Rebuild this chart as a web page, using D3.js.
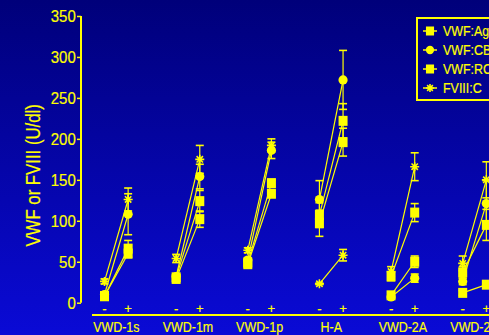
<!DOCTYPE html>
<html>
<head>
<meta charset="utf-8">
<script src="https://cdn.jsdelivr.net/npm/d3@7"></script>
<style>
  html, body { margin: 0; padding: 0; overflow: hidden; }
  svg { display: block; }
  text { font-family: 'Liberation Sans', Arial, sans-serif; fill: #ffff00; stroke: #ffff00; stroke-width: 0.2px; }
</style>
</head>
<body>
<script>
const groups = ['VWD-1s', 'VWD-1m', 'VWD-1p', 'H-A', 'VWD-2A', 'VWD-2B']
const states = ['-', '+']
const yTicks = [0, 50, 100, 150, 200, 250, 300, 350]
const seriesNames = ['VWF:Ag', 'VWF:CB', 'VWF:RCo', 'FVIII:C']
const seriesShapes = ['square', 'circle', 'square', 'star']

// values before (-) and after (+) DDAVP, with error bars
const agPre = [8, 31, 49, 107, 32, 37]
const agPost = [66, 124, 146, 222, 110, 95]
const agPreSd = [3, 3, 3, 15, 5, 7]
const agPostSd = [10, 13, 4, 21, 11, 19]

const cbPre = [10, 32, 52, 126, 7, 26]
const cbPost = [108, 154, 186, 272, 30, 121]
const cbPreSd = [3, 3, 3, 23, 2, 4]
const cbPostSd = [25, 15, 10, 36, 5, 28]

const rcoPre = [8, 29, 47, 97, 9, 12]
const rcoPost = [60, 102, 133, 196, 50, 22]
const rcoPreSd = [3, 3, 3, 16, 2, 3]
const rcoPostSd = [5, 10, 4, 17, 7, 3]

const f8Pre = [26, 54, 64, 23, 38, 48]
const f8Post = [126, 175, 192, 58, 166, 150]
const f8PreSd = [3, 5, 3, 1, 6, 9]
const f8PostSd = [14, 17, 8, 7, 17, 22]

const width = 489
const height = 335
const yellow = '#ffff00'

const series = [
  { pre: agPre, post: agPost, preSd: agPreSd, postSd: agPostSd },
  { pre: cbPre, post: cbPost, preSd: cbPreSd, postSd: cbPostSd },
  { pre: rcoPre, post: rcoPost, preSd: rcoPreSd, postSd: rcoPostSd },
  { pre: f8Pre, post: f8Post, preSd: f8PreSd, postSd: f8PostSd }
].map((s, k) => ({ ...s, name: seriesNames[k], shape: seriesShapes[k] }))

const x = d3.scaleLinear().domain([0, groups.length - 1]).range([104.5, 462.7])
const stateOffset = [0, 0.33]
const xPos = (g, st) => x(g + stateOffset[st])
const y = d3.scaleLinear().domain([0, 350]).range([302.7, 16])

const svg = d3.select('body').append('svg')
  .attr('width', width)
  .attr('height', height)

const grad = svg.append('defs').append('linearGradient')
  .attr('id', 'bg').attr('x1', 0).attr('y1', 0).attr('x2', 0).attr('y2', 1)
grad.append('stop').attr('offset', '0%').attr('stop-color', '#00007a')
grad.append('stop').attr('offset', '100%').attr('stop-color', '#0a0ad6')

svg.append('rect').attr('width', width).attr('height', height).attr('fill', 'url(#bg)')

// narrow text: scale horizontally around its anchor point
function narrowText(sel, tx, ty, str, size, sx, anchor) {
  return sel.append('g')
    .attr('transform', `translate(${tx},${ty}) scale(${sx},1)`)
    .append('text')
    .attr('text-anchor', anchor || 'middle')
    .style('font-size', size + 'px')
    .text(str)
}

// y axis
const yAxis = svg.append('g')
  .attr('transform', 'translate(81,0)')
  .call(d3.axisLeft(y).tickValues(yTicks).tickSize(4).tickPadding(2))
yAxis.select('.domain').attr('stroke', yellow).attr('stroke-width', 2)
  .attr('d', `M0,${y(350)}V${y(0)}`)
yAxis.selectAll('.tick line').attr('stroke', yellow).attr('stroke-width', 1.5)
yAxis.selectAll('.tick text')
  .attr('fill', yellow)
  .attr('transform', 'scale(0.88,1)')
  .style('font-size', '17px')
  .style('font-family', "'Liberation Sans', Arial, sans-serif")

svg.append('g')
  .attr('transform', `translate(40,${(y(0) + y(350)) / 2 + 16}) rotate(-90) scale(0.86,1)`)
  .append('text')
  .attr('text-anchor', 'middle')
  .style('font-size', '19.5px')
  .text('VWF or  FVIII (U/dl)')

// x axis line
svg.append('line')
  .attr('x1', 92).attr('x2', width)
  .attr('y1', 315).attr('y2', 315)
  .attr('stroke', yellow).attr('stroke-width', 2)

groups.forEach((g, i) => {
  states.forEach((s, j) => {
    narrowText(svg, xPos(i, j), 313, s, 13, 1)
  })
  narrowText(svg, (xPos(i, 0) + xPos(i, 1)) / 2, 331.5, g, 15, 0.83)
})

function drawMarker(sel, shape, cx, cy, s) {
  if (shape === 'square') {
    sel.append('rect')
      .attr('x', cx - 4.5 * s).attr('y', cy - 5 * s)
      .attr('width', 9 * s).attr('height', 10 * s)
      .attr('fill', yellow)
  } else if (shape === 'circle') {
    sel.append('circle')
      .attr('cx', cx).attr('cy', cy).attr('r', 4.6 * s)
      .attr('fill', yellow)
  } else {
    const r = 4.5 * s
    const d = [0, 45, 90, 135].map((a) => {
      const t = (a * Math.PI) / 180
      return `M${cx - r * Math.cos(t)},${cy - r * Math.sin(t)}L${cx + r * Math.cos(t)},${cy + r * Math.sin(t)}`
    }).join('')
    sel.append('path').attr('d', d).attr('stroke', yellow).attr('stroke-width', 1.6)
  }
}

const plot = svg.append('g')

// connecting lines
series.forEach((s) => {
  groups.forEach((g, i) => {
    plot.append('line')
      .attr('x1', xPos(i, 0)).attr('y1', y(s.pre[i]))
      .attr('x2', xPos(i, 1)).attr('y2', y(s.post[i]))
      .attr('stroke', yellow).attr('stroke-width', 1.2)
  })
})

// error bars
series.forEach((s) => {
  groups.forEach((g, i) => {
    [[s.pre[i], s.preSd[i], 0], [s.post[i], s.postSd[i], 1]].forEach(([v, sd, st]) => {
      const cx = xPos(i, st)
      const eb = plot.append('g').attr('stroke', yellow)
      eb.append('line').attr('x1', cx).attr('x2', cx)
        .attr('y1', y(v + sd)).attr('y2', y(Math.max(0, v - sd))).attr('stroke-width', 1.2)
      ;[v + sd, Math.max(0, v - sd)].forEach((e) => {
        eb.append('line').attr('x1', cx - 4).attr('x2', cx + 4)
          .attr('y1', y(e)).attr('y2', y(e)).attr('stroke-width', 1.6)
      })
    })
  })
})

// markers
series.forEach((s) => {
  groups.forEach((g, i) => {
    drawMarker(plot, s.shape, xPos(i, 0), y(s.pre[i]), 1)
    drawMarker(plot, s.shape, xPos(i, 1), y(s.post[i]), 1)
  })
})

// legend
const legend = svg.append('g')
legend.append('rect')
  .attr('x', 417).attr('y', 18)
  .attr('width', 90).attr('height', 82)
  .attr('fill', 'none').attr('stroke', yellow).attr('stroke-width', 2)
series.forEach((s, k) => {
  const ly = 31 + k * 19
  legend.append('line')
    .attr('x1', 423).attr('x2', 437).attr('y1', ly).attr('y2', ly)
    .attr('stroke', yellow).attr('stroke-width', 1.5)
  drawMarker(legend, s.shape, 430, ly, 0.9)
  narrowText(legend, 443, ly + 5, s.name, 15, 0.83, 'start')
})
</script>
</body>
</html>
